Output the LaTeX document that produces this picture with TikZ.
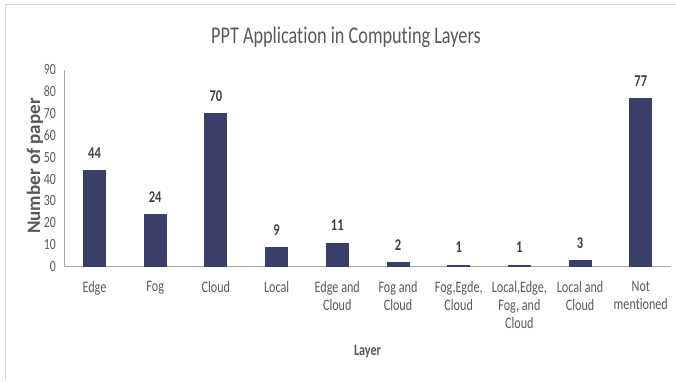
\documentclass[tikz,border=0pt]{standalone}
\usepackage{fontspec}
\setmainfont[FakeStretch=0.76, Ligatures=NoCommon]{Carlito}
\newfontfamily\widefont[Ligatures=NoCommon]{Carlito}
\usetikzlibrary{positioning}
\definecolor{barblue}{HTML}{38406A}
\definecolor{labgray}{HTML}{595959}
\definecolor{valgray}{HTML}{404040}
\definecolor{axgray}{HTML}{A6A6A6}
\definecolor{framegray}{HTML}{D9D9D9}
\tikzset{
  ticklab/.style={text=labgray, font=\fontsize{15.5}{17}\selectfont, anchor=east, inner sep=0pt},
  catlab/.style={text=labgray, font=\fontsize{16}{18}\selectfont, align=center, anchor=north, inner sep=0pt},
  vallab/.style={text=valgray, font=\fontsize{16.5}{18}\selectfont\bfseries, inner sep=0pt},
  axtitle/.style={text=labgray, font=\fontsize{15}{17}\selectfont\bfseries, inner sep=0pt},
  bar/.style={fill=barblue}
}
\begin{document}
\begin{tikzpicture}[x=1pt,y=1pt]
  \useasboundingbox (0,0) rectangle (676,381);
  % chart frame (cut at right and bottom)
  \draw [framegray, line width=1pt] (5,0) -- (5,376) -- (676,376);
  % title
  \node (title) [text=labgray, font=\fontsize{24}{26}\selectfont, inner sep=0pt] at (346,344) {PPT Application in Computing Layers};
  % axes
  \coordinate (origin) at (64,114.3);
  \coordinate (ytop) at (64,311.3);
  \coordinate (xend) at (671,114.3);
  \draw [axgray, line width=0.8pt] (origin) -- (ytop);
  \draw [axgray, line width=0.8pt] (origin) -- (xend);
  % tick labels
  \node (t0) [ticklab] at (56,114.3) {0};
  \foreach \v in {1,...,9}
    \node (t\v) [ticklab] at (56,114.3+\v*21.9) {\v0};
  \node (ytitle) [axtitle, font=\fontsize{19}{21}\widefont\bfseries, rotate=90] at (35,215) {Number of paper};
  % bars and values
  \foreach \i/\v in {0/44,1/24,2/70,3/9,4/11,5/2,6/1,7/1,8/3,9/77} {
    \fill [bar] (83+60.7*\i,114.3) rectangle ++(23,\v*2.19);
    \node (v\i) [vallab] at (94.5+60.7*\i,114.3+\v*2.19+17) {\v};
  }
  % categories
  \node (c0) [catlab] at (94.5,100) {Edge};
  \node (c1) [catlab] at (155.2,100) {Fog};
  \node (c2) [catlab] at (215.9,100) {Cloud};
  \node (c3) [catlab] at (276.6,100) {Local};
  \node (c4) [catlab] at (337.3,100) {Edge and\\Cloud};
  \node (c5) [catlab] at (398.0,100) {Fog and\\Cloud};
  \node (c6) [catlab] at (458.7,100) {Fog,Egde,\\Cloud};
  \node (c7) [catlab] at (519.4,100) {Local,Edge,\\Fog, and\\Cloud};
  \node (c8) [catlab] at (580.1,100) {Local and\\Cloud};
  \node (c9) [catlab] at (640.8,100) {Not\\mentioned};
  \node (xtitle) [axtitle, font=\fontsize{16}{18}\selectfont\bfseries] at (367.5,29) {Layer};
\end{tikzpicture}
\end{document}
